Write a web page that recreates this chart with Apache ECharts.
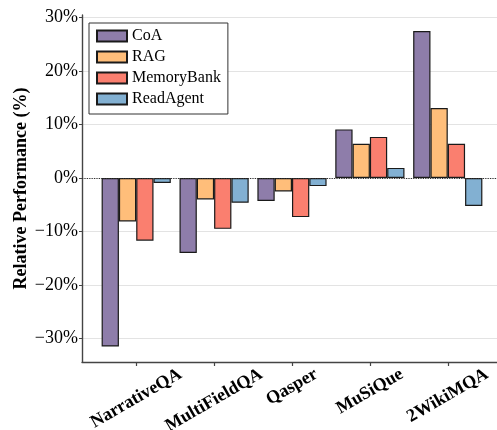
<!DOCTYPE html>
<html>
<head>
<meta charset="utf-8">
<script src="https://cdn.jsdelivr.net/npm/echarts@6/dist/echarts.min.js"></script>
<style>
  html, body { margin: 0; padding: 0; background: #fff; }
  #chart { width: 497px; height: 430px; }
</style>
</head>
<body>
<div id="chart"></div>
<script>
const categories = ['NarrativeQA', 'MultiFieldQA', 'Qasper', 'MuSiQue', '2WikiMQA'];
const methods = ['CoA', 'RAG', 'MemoryBank', 'ReadAgent'];
const coa = [-31.5, -14.0, -4.3, 9.1, 27.5];
const rag = [-8.1, -4.0, -2.5, 6.4, 13.1];
const memoryBank = [-11.7, -9.5, -7.3, 7.7, 6.4];
const readAgent = [-0.9, -4.6, -1.5, 1.9, -5.2];
const yTicks = [-30, -20, -10, 0, 10, 20, 30];

const colors = ['#8E7DAA', '#FFBE7A', '#FA7F6F', '#82B0D2'];
const font = 'Liberation Serif';
const xFontSize = 18;

// tick labels are centred on the tick with their rotated box top level,
// so longer labels sit lower: shift each by a quarter of its extra width
const ctx = document.createElement('canvas').getContext('2d');
ctx.font = 'bold ' + xFontSize + 'px "' + font + '"';
const widths = categories.map(c => ctx.measureText(c).width);
const minW = Math.min.apply(null, widths);
const rich = {};
categories.forEach((c, i) => {
  const d = 0.25 * (widths[i] - minW);
  rich['c' + i] = {
    fontFamily: font, fontWeight: 'bold', fontSize: xFontSize, color: '#000',
    padding: [d * 1.732, d, 0, 0]
  };
});

const seriesData = [coa, rag, memoryBank, readAgent];
const idx = categories.map((c, i) => i);

const chart = echarts.init(document.getElementById('chart'), null, { renderer: 'canvas' });

const series = methods.map((m, k) => ({
  name: m,
  type: 'bar',
  data: seriesData[k].map((v, i) => [i, v]),
  barWidth: 17.3,
  barGap: '0%',
  itemStyle: { color: colors[k], borderColor: '#1a1a1a', borderWidth: 1.2 },
  emphasis: { disabled: true }
}));
series[0].markLine = {
  silent: true,
  symbol: 'none',
  label: { show: false },
  lineStyle: { type: 'dotted', color: '#333', width: 1.2 },
  data: [{ yAxis: 0 }]
};

chart.setOption({
  animation: false,
  textStyle: { fontFamily: font },
  grid: { left: 82, right: 0, top: 15, bottom: 68, outerBoundsMode: 'none', containLabel: false },
  legend: {
    data: methods,
    orient: 'vertical',
    left: 89,
    top: 23,
    icon: 'rect',
    itemWidth: 30,
    itemHeight: 11,
    itemGap: 5,
    padding: [5, 7, 7, 7],
    backgroundColor: '#fff',
    borderColor: '#333',
    borderWidth: 1,
    textStyle: { fontFamily: font, fontSize: 16, color: '#000', lineHeight: 16 }
  },
  xAxis: {
    type: 'value',
    min: -0.696,
    max: 4.632,
    splitLine: { show: false },
    axisLine: { show: true, onZero: false, lineStyle: { color: '#444', width: 1.4 } },
    axisTick: { show: true, length: 4, customValues: idx, lineStyle: { color: '#444', width: 1.2 } },
    axisLabel: {
      customValues: idx,
      rotate: 30,
      align: 'center',
      verticalAlign: 'middle',
      margin: 25,
      formatter: v => {
        const i = Math.round(v);
        return '{c' + i + '|' + categories[i] + '}';
      },
      rich: rich
    }
  },
  yAxis: {
    type: 'value',
    min: -34.4,
    max: 30.5,
    name: 'Relative Performance (%)',
    nameLocation: 'middle',
    nameGap: 52,
    nameMoveOverlap: false,
    nameTextStyle: { fontFamily: font, fontWeight: 'bold', fontSize: 18, color: '#000' },
    axisLine: { show: true, onZero: false, lineStyle: { color: '#444', width: 1.4 } },
    axisTick: { show: true, length: 3, customValues: yTicks, lineStyle: { color: '#444' } },
    axisLabel: {
      customValues: yTicks,
      margin: 4,
      fontFamily: font,
      fontSize: 18,
      color: '#000',
      formatter: v => (v < 0 ? '\u2212' + Math.abs(v) : v) + '%'
    },
    splitLine: { show: true, customValues: yTicks, lineStyle: { color: '#e3e3e3', width: 1.2 } }
  },
  series: series
});
</script>
</body>
</html>
